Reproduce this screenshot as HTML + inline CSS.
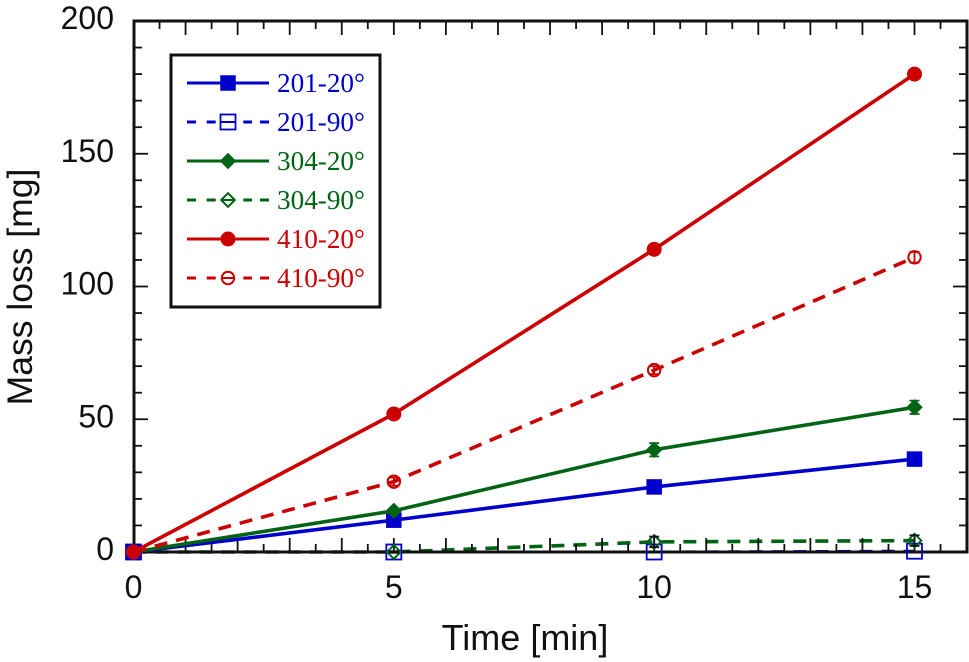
<!DOCTYPE html>
<html>
<head>
<meta charset="utf-8">
<title>Mass loss vs time</title>
<style>
html,body{margin:0;padding:0;background:#fff;}
svg{display:block;}
</style>
</head>
<body>
<svg id="chart" xmlns="http://www.w3.org/2000/svg" width="969" height="662" viewBox="0 0 969 662"></svg>
<script>
const times = [0, 5, 10, 15];
const xTickLabels = [0, 5, 10, 15];
const yTickLabels = [0, 50, 100, 150, 200];
const seriesNames = ['201-20°', '201-90°', '304-20°', '304-90°', '410-20°', '410-90°'];
const values201at20 = [0, 12, 24.5, 35];
const values201at90 = [0, 0, 0, 0.3];
const values304at20 = [0, 15.5, 38.5, 54.5];
const values304at90 = [0, 0, 3.8, 4.3];
const values410at20 = [0, 52, 114, 180];
const values410at90 = [0, 26.5, 68.5, 111];
const errors304at20 = [0, 1, 2.5, 2.5];
const errors304at90 = [0, 0.3, 2, 2];
const errors410at90 = [0, 1.5, 1.5, 2];

const NS = 'http://www.w3.org/2000/svg';
const svg = document.getElementById('chart');
const L = 134, R = 967, T = 21, B = 552;
const xScale = v => 133.5 + v * (914.5 - 133.5) / 15;
const yScale = v => B - v * (B - T) / 200;

function make(tag, attrs, parent, text) {
  const el = document.createElementNS(NS, tag);
  for (const k in attrs) el.setAttribute(k, attrs[k]);
  if (text !== undefined) el.textContent = text;
  (parent || svg).appendChild(el);
  return el;
}
function marker(g, shape, filled, color, cx, cy) {
  const fill = filled ? color : 'none';
  const sw = filled ? 1 : 2;
  if (shape === 'square') {
    make('rect', {x: cx - 7.5, y: cy - 7.5, width: 15, height: 15, fill: fill, stroke: color, 'stroke-width': filled ? 0.5 : 1.8}, g);
  } else if (shape === 'diamond') {
    const r = filled ? 7.5 : 6.8;
    make('polygon', {points: [cx, cy - r, cx + r, cy, cx, cy + r, cx - r, cy].join(','), fill: fill, stroke: color, 'stroke-width': sw}, g);
  } else {
    make('circle', {cx: cx, cy: cy, r: filled ? 7 : 6.2, fill: fill, stroke: color, 'stroke-width': sw}, g);
  }
}

const BLUE = '#0000cc', GREEN = '#006414', RED = '#cc0000';
const seriesList = [
  {key: '201-20', vals: values201at20, err: null, color: BLUE, shape: 'square', filled: true},
  {key: '201-90', vals: values201at90, err: null, color: BLUE, shape: 'square', filled: false},
  {key: '304-20', vals: values304at20, err: errors304at20, color: GREEN, shape: 'diamond', filled: true},
  {key: '304-90', vals: values304at90, err: errors304at90, color: GREEN, shape: 'diamond', filled: false},
  {key: '410-90', vals: values410at90, err: errors410at90, color: RED, shape: 'circle', filled: false},
  {key: '410-20', vals: values410at20, err: null, color: RED, shape: 'circle', filled: true}
];

// Near-zero dashed lines sit beneath the axis line; everything else is drawn above it
const linesUnderAxis = make('g', {});



// Axes frame and ticks
const axes = make('g', {stroke: '#111', fill: 'none'});


const frame = make('rect', {x: L, y: T, width: R - L, height: B - T, 'stroke-width': 3}, axes);


for (let v = 0.5; v < 16; v += 0.5) {
  const x = xScale(v), len = Number.isInteger(v) ? 14 : 8;
  make('line', {x1: x, x2: x, y1: B, y2: B - len, 'stroke-width': 1.8}, axes);
  make('line', {x1: x, x2: x, y1: T, y2: T + len, 'stroke-width': 1.8}, axes);
}
for (let v = 10; v < 200; v += 10) {
  const y = yScale(v), len = v % 50 === 0 ? 14 : 8;
  make('line', {x1: L, x2: L + len, y1: y, y2: y, 'stroke-width': 1.8}, axes);
  make('line', {x1: R, x2: R - len, y1: y, y2: y, 'stroke-width': 1.8}, axes);
}

// Series
seriesList.forEach(s => {
  const g = make('g', {});
  
  
  const lineParent = (s.key === '201-90' || s.key === '304-90') ? linesUnderAxis : g;
  const line = make('polyline', {
    points: times.map((t, i) => xScale(t) + ',' + yScale(s.vals[i])).join(' '),
    fill: 'none', stroke: s.color, 'stroke-width': s.key === '201-90' ? 3 : 3.6
  }, lineParent);
  if (!s.filled) line.setAttribute('stroke-dasharray', '13 9');
  
  
  times.forEach((t, i) => {
    const cx = xScale(t), cy = yScale(s.vals[i]);
    marker(g, s.shape, s.filled, s.color, cx, cy);
    if (s.err && s.err[i] > 0) {
      const barColor = s.key === '304-90' ? '#111' : s.color;
      const top = yScale(s.vals[i] + s.err[i]), bot = yScale(s.vals[i] - s.err[i]);
      const bar = make('line', {x1: cx, x2: cx, y1: top, y2: bot, stroke: barColor, 'stroke-width': 1.8}, g);
      
      
      make('line', {x1: cx - 5, x2: cx + 5, y1: top, y2: top, stroke: barColor, 'stroke-width': 1.8}, g);
      make('line', {x1: cx - 5, x2: cx + 5, y1: bot, y2: bot, stroke: barColor, 'stroke-width': 1.8}, g);
    }
  });
});

// Tick labels
const sans = '"Liberation Sans", sans-serif';
xTickLabels.forEach(v => {
  const t = make('text', {x: xScale(v), y: 598, 'font-family': sans, 'font-size': 32, 'text-anchor': 'middle', fill: '#111'}, svg, String(v));
  
  
});
yTickLabels.forEach(v => {
  const t = make('text', {x: 114, y: yScale(v) + 8, 'font-family': sans, 'font-size': 32, 'text-anchor': 'end', fill: '#111'}, svg, String(v));
  
  
});

// Axis titles
const xTitle = make('text', {x: 525, y: 650, 'font-family': sans, 'font-size': 36, 'text-anchor': 'middle', fill: '#111'}, svg, 'Time [min]');


const yTitle = make('text', {x: 0, y: 0, transform: 'translate(32,287) rotate(-90)', 'font-family': sans, 'font-size': 35.5, 'text-anchor': 'middle', fill: '#111'}, svg, 'Mass loss [mg]');



// Legend
const legend = make('g', {});


const legendBox = make('rect', {x: 171, y: 55, width: 209, height: 252, fill: '#fff', stroke: '#111', 'stroke-width': 3}, legend);


const legendStyle = [
  [BLUE, 'square', true], [BLUE, 'square', false],
  [GREEN, 'diamond', true], [GREEN, 'diamond', false],
  [RED, 'circle', true], [RED, 'circle', false]
];
seriesNames.forEach((name, i) => {
  const st = legendStyle[i];
  const y = 83 + i * 39;
  const row = make('g', {}, legend);
  
  
  if (st[2]) {
    make('line', {x1: 187, x2: 269, y1: y, y2: y, stroke: st[0], 'stroke-width': 3}, row);
  } else {
    [[187, 196], [206.7, 215.7], [243.3, 252], [260, 269]].forEach(d => {
      make('line', {x1: d[0], x2: d[1], y1: y, y2: y, stroke: st[0], 'stroke-width': 3}, row);
    });
  }
  marker(row, st[1], st[2], st[0], 228, y);
  if (!st[2]) make('line', {x1: 221, x2: 235, y1: y, y2: y, stroke: st[0], 'stroke-width': 2}, row);
  make('text', {x: 277, y: y + 9, 'font-family': '"Liberation Serif", serif', 'font-size': 27.2, fill: st[0]}, row, name);
});
</script>
</body>
</html>
